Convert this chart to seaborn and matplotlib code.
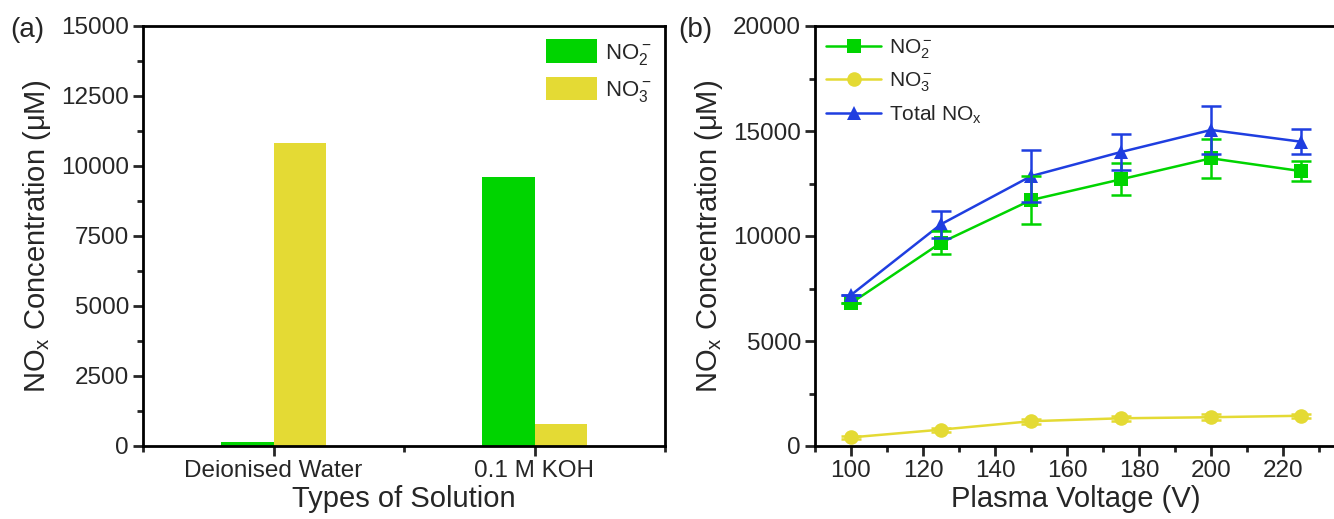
import matplotlib
matplotlib.use("Agg")
import matplotlib.pyplot as plt
from matplotlib.ticker import MultipleLocator, FixedLocator
from matplotlib.patches import Patch
from matplotlib.lines import Line2D
import seaborn as sns
import pandas as pd
import numpy as np

# ---- data -------------------------------------------------------------
solutions = ["Deionised Water", "0.1 M KOH"]
bar_no2 = [130, 9600]
bar_no3 = [10830, 800]

voltage = [100, 125, 150, 175, 200, 225]
no2 = [6800, 9680, 11710, 12700, 13700, 13090]
no2_err = [0, 550, 1150, 770, 930, 490]
no3 = [410, 780, 1180, 1320, 1370, 1440]
no3_err = [60, 90, 110, 110, 150, 100]
total = [7190, 10560, 12850, 14000, 15050, 14490]
total_err = [0, 640, 1250, 860, 1150, 590]

GREEN = "#00D400"
YELLOW = "#E4DA34"
BLUE = "#1F3EE0"

lbl_no2 = r"NO$_2^-$"
lbl_no3 = r"NO$_3^-$"
lbl_tot = r"Total NO$_x$"

sns.set_theme(style="ticks")
plt.rcParams["font.family"] = ["Liberation Sans", "DejaVu Sans"]
plt.rcParams["mathtext.fontset"] = "custom"
plt.rcParams["mathtext.rm"] = "Liberation Sans"
plt.rcParams["mathtext.it"] = "Liberation Sans"
plt.rcParams["mathtext.default"] = "regular"
plt.rcParams["axes.linewidth"] = 2.0
plt.rcParams["axes.edgecolor"] = "black"

W, H = 1334, 519
fig = plt.figure(figsize=(W / 100, H / 100), dpi=100)

def px_axes(left, top, right, bottom):
    return fig.add_axes([left / W, 1 - bottom / H, (right - left) / W, (bottom - top) / H])

ax1 = px_axes(143, 26, 665, 446)
ax2 = px_axes(815, 26, 1337, 446)

TICK_FS = 17.5
LABEL_FS = 21

# ---- (a) bar chart ----------------------------------------------------
bars = pd.DataFrame({
    "solution": solutions * 2,
    "ion": [lbl_no2] * len(solutions) + [lbl_no3] * len(solutions),
    "conc": bar_no2 + bar_no3,
})
sns.barplot(data=bars, x="solution", y="conc", hue="ion",
            palette=[GREEN, YELLOW], width=0.4, gap=0, saturation=1,
            linewidth=0, ax=ax1, legend=False)
ax1.set_xlim(-0.5, 1.5)
ax1.set_ylim(0, 15000)
ax1.yaxis.set_major_locator(MultipleLocator(2500))
ax1.yaxis.set_minor_locator(MultipleLocator(1250))
ax1.xaxis.set_minor_locator(FixedLocator([-0.5, 0.5, 1.5]))
ax1.set_xlabel("Types of Solution", fontsize=LABEL_FS, labelpad=2)
ax1.set_ylabel(r"NO$_x$ Concentration (μM)", fontsize=LABEL_FS, labelpad=6)
handles_a = [Patch(facecolor=GREEN, edgecolor="none", label=lbl_no2),
             Patch(facecolor=YELLOW, edgecolor="none", label=lbl_no3)]
ax1.legend(handles=handles_a, loc="upper right", frameon=False,
           fontsize=16, handlelength=2.3, handleheight=1.25,
           labelspacing=0.45, handletextpad=0.35,
           borderaxespad=0.2, bbox_to_anchor=(1.0, 1.0))

# ---- (b) line chart ---------------------------------------------------
lines = pd.DataFrame({
    "voltage": voltage * 3,
    "conc": no2 + no3 + total,
    "series": [lbl_no2] * 6 + [lbl_no3] * 6 + [lbl_tot] * 6,
})
MS = 10.5
sns.lineplot(data=lines, x="voltage", y="conc", hue="series", style="series",
             palette=[GREEN, YELLOW, BLUE], markers=["s", "o", "^"],
             dashes=False, markersize=MS, linewidth=1.8, markeredgewidth=0,
             ax=ax2, legend=False)
for vals, errs, col in [(no2, no2_err, GREEN), (no3, no3_err, YELLOW), (total, total_err, BLUE)]:
    ax2.errorbar(voltage, vals, yerr=errs, fmt="none", ecolor=col,
                 elinewidth=1.8, capsize=7, capthick=1.8)
ax2.set_xlim(90, 235)
ax2.set_ylim(0, 20000)
ax2.xaxis.set_major_locator(MultipleLocator(20))
ax2.xaxis.set_minor_locator(MultipleLocator(10))
ax2.yaxis.set_major_locator(MultipleLocator(5000))
ax2.yaxis.set_minor_locator(MultipleLocator(2500))
ax2.set_xlabel("Plasma Voltage (V)", fontsize=LABEL_FS, labelpad=2)
ax2.set_ylabel(r"NO$_x$ Concentration (μM)", fontsize=LABEL_FS, labelpad=6)
handles_b = [
    Line2D([], [], color=GREEN, marker="s", markersize=MS, markeredgewidth=0, lw=1.8, label=lbl_no2),
    Line2D([], [], color=YELLOW, marker="o", markersize=MS, markeredgewidth=0, lw=1.8, label=lbl_no3),
    Line2D([], [], color=BLUE, marker="^", markersize=MS, markeredgewidth=0, lw=1.8, label=lbl_tot),
]
ax2.legend(handles=handles_b, loc="upper left", frameon=False, fontsize=15,
           handlelength=2.6, labelspacing=0.45, handletextpad=0.4,
           borderaxespad=0.15, bbox_to_anchor=(0.0, 1.0))

for ax in (ax1, ax2):
    for s in ax.spines.values():
        s.set_visible(True)
        s.set_linewidth(2.0)
    ax.tick_params(which="major", direction="out", length=7, width=2,
                   labelsize=TICK_FS, pad=3, top=False, right=False)
    ax.tick_params(which="minor", direction="out", length=4, width=2,
                   top=False, right=False)

fig.text(10 / W, 1 - 30 / H, "(a)", fontsize=20, va="center", ha="left")
fig.text(678 / W, 1 - 30 / H, "(b)", fontsize=20, va="center", ha="left")

fig.savefig("out.png", dpi=100)
